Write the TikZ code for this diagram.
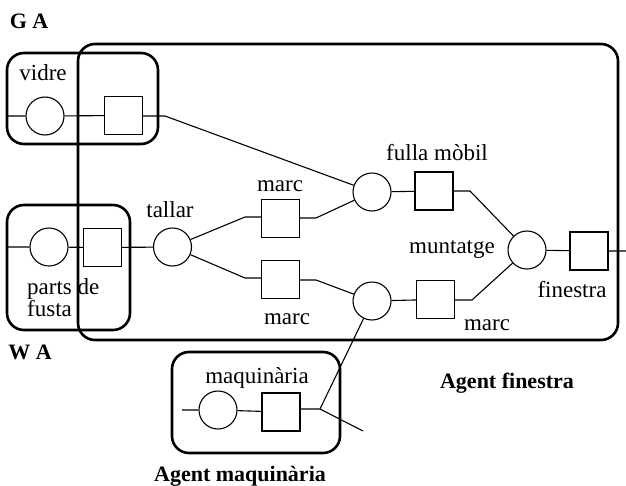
\documentclass[tikz,border=0pt]{standalone}
\usepackage{fontspec}
\setmainfont{Liberation Serif}
\begin{document}
\begin{tikzpicture}[x=1pt,y=-1pt,
  place/.style={circle,draw,line width=1.1pt,minimum size=38pt,inner sep=0pt},
  trans/.style={rectangle,draw,line width=1.1pt,minimum size=38pt,inner sep=0pt},
  agent/.style={draw,line width=2.6pt,rounded corners=17pt,inner sep=0pt},
  lbl/.style={font=\fontsize{23}{20}\selectfont,inner sep=0pt},
  ttl/.style={font=\fontsize{22}{24}\selectfont\bfseries,inner sep=0pt},
  arc/.style={line width=1.1pt}]
\useasboundingbox (0,0) rectangle (626,485);

% agent boxes
\node[agent,minimum width=540pt,minimum height=296pt] (fin) at (348,192) {};
\node[agent,minimum width=151pt,minimum height=91pt] (gabox) at (82.5,98.5) {};
\node[agent,minimum width=123pt,minimum height=125pt] (wabox) at (68.5,267.5) {};
\node[agent,minimum width=168pt,minimum height=101pt] (maqbox) at (256,402.5) {};

% titles
\node[ttl] (ga) at (29,21) {G A};
\node[ttl] (wa) at (30,352) {W A};
\node[ttl] (tfin) at (507,383) {Agent finestra};
\node[ttl] (tmaq) at (240,476) {Agent maquinària};

% places and transitions
\node[place] (vc) at (45,116) {};
\node[trans] (vs) at (123.5,115.5) {};
\node[place] (pc) at (49,247) {};
\node[trans] (ps) at (102.5,247.5) {};
\node[place] (tc) at (172.5,247) {};
\node[trans] (m1) at (280.5,218.5) {};
\node[trans] (m2) at (280.5,279.5) {};
\node[place] (fc) at (372,192) {};
\node[trans] (fs) at (434,191) {};
\node[place] (bc) at (372,301) {};
\node[trans] (bs) at (435.5,299.5) {};
\node[place] (mc) at (527,250) {};
\node[trans] (fins) at (589,251) {};
\node[place] (qc) at (218,410) {};
\node[trans] (qs) at (281,412) {};

% labels
\node[lbl] (lvidre) at (43,73) {vidre};
\node[lbl,anchor=west,align=left] (lparts) at (27,298) {parts de\\fusta};
\node[lbl] (ltallar) at (170,210) {tallar};
\node[lbl] (lm1) at (280,186) {marc};
\node[lbl] (lm2) at (287,319) {marc};
\node[lbl] (lfulla) at (437,153) {fulla mòbil};
\node[lbl] (lmunt) at (452,250) {muntatge};
\node[lbl] (lfin) at (572,290) {finestra};
\node[lbl] (lm3) at (487,325) {marc};
\node[lbl] (lmaq) at (257,378) {maquinària};

% free ends and bends
\coordinate (v0) at (8,116);
\coordinate (p0) at (8,247);
\coordinate (q0) at (182,410);
\coordinate (f1) at (626,251);
\coordinate (vb) at (165,116);
\coordinate (tb1) at (245,217);
\coordinate (tb2) at (245,278);
\coordinate (mb1) at (316,218);
\coordinate (mb2) at (316,280);
\coordinate (fb) at (470,191);
\coordinate (bb) at (472,300);
\coordinate (qj) at (320,409);
\coordinate (qe) at (363,431);

% connectors
\draw[arc] (v0) -- (vc) -- (vs);
\draw[arc] (vs.east |- vb) -- (vb) -- (fc);
\draw[arc] (p0) -- (pc) -- (ps) -- (tc);
\draw[arc] (tc) -- (tb1) -- (m1.west |- tb1);
\draw[arc] (tc) -- (tb2) -- (m2.west |- tb2);
\draw[arc] (m1.east |- mb1) -- (mb1) -- (fc);
\draw[arc] (m2.east |- mb2) -- (mb2) -- (bc);
\draw[arc] (fc) -- (fs);
\draw[arc] (fs.east |- fb) -- (fb) -- (mc);
\draw[arc] (bc) -- (bs);
\draw[arc] (bs.east |- bb) -- (bb) -- (mc);
\draw[arc] (mc) -- (fins) -- (f1);
\draw[arc] (q0) -- (qc) -- (qs);
\draw[arc] (qs.east |- qj) -- (qj) -- (qe);
\draw[arc] (qj) -- (bc);
\end{tikzpicture}
\end{document}
